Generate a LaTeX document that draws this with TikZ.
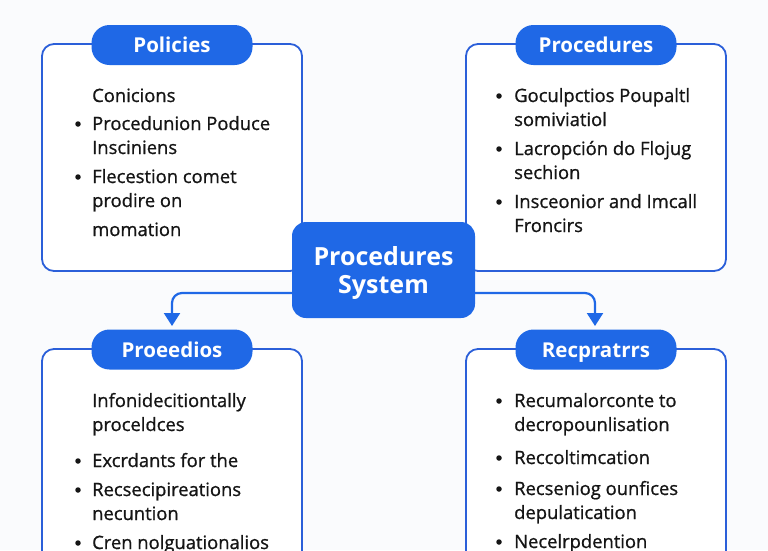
\documentclass[tikz,border=0pt]{standalone}
\usepackage{fontspec}
\setmainfont{Open Sans}
\newfontfamily\medfont{Open Sans}[RawFeature={embolden=0.9}]
\usetikzlibrary{arrows.meta}
\definecolor{bg}{HTML}{FAFBFD}
\definecolor{pillblue}{HTML}{1F68E6}
\definecolor{edgeblue}{HTML}{2B5FD9}
\definecolor{txt}{HTML}{151515}
\tikzset{
  panel/.style={draw=edgeblue, line width=1.8pt, fill=white, rounded corners=12pt},
  pill/.style={fill=pillblue, rounded corners=18pt, minimum width=161pt, minimum height=40pt, inner sep=0pt},
  pilltext/.style={text=white, font=\fontsize{20.5}{22}\selectfont\bfseries, anchor=base},
  body/.style={text=txt, font=\medfont\fontsize{18.4}{20}\selectfont, anchor=base west, inner sep=0pt},
  bul/.style={circle, fill=txt, inner sep=0pt, minimum size=5.5pt},
  hub/.style={fill=pillblue, rounded corners=14pt, minimum width=183pt, minimum height=96pt, inner sep=0pt},
  link/.style={draw=pillblue, line width=2.2pt, rounded corners=10pt, -{Triangle[length=13pt,width=16pt]}}
}
\begin{document}
\begin{tikzpicture}[x=1pt,y=-1pt]
\fill[bg] (0,0) rectangle (768,550);
\useasboundingbox (0,0) rectangle (768,550);
\clip (0,0) rectangle (768,550);

% panels
\draw[panel] (42,44) rectangle (302,271);
\draw[panel] (466,44) rectangle (726,271);
\draw[panel] (42,349) rectangle (302,580);
\draw[panel] (466,349) rectangle (726,580);

% pills
\node[pill] (p1) at (172,45) {};
\node[pilltext] at (172,52) {Policies};
\node[pill] (p2) at (596,45) {};
\node[pilltext] at (596,52) {Procedures};
\node[pill] (p3) at (172,349.5) {};
\node[pilltext] at (172,357) {Proeedios};
\node[pill] (p4) at (596,349.5) {};
\node[pilltext] at (596,357) {Recpratrrs};

% hub
\node[hub] (hub) at (383.5,270) {};
\node[text=white, font=\fontsize{25}{28}\selectfont\bfseries, anchor=base] at (383.5,265) {Procedures};
\node[text=white, font=\fontsize{25}{28}\selectfont\bfseries, anchor=base] at (383.5,293) {System};

% arrows
\coordinate (lt) at (172,326);
\coordinate (rt) at (595,326);
\draw[link] (hub.west |- 0,293) -| (lt);
\draw[link] (hub.east |- 0,293) -| (rt);

% Policies text
\node[body] at (92,102) {Conicions};
\node[bul] at (78,124) {};
\node[body] at (92,130) {Procedunion Poduce};
\node[body] at (92,154) {Insciniens};
\node[bul] at (78,177) {};
\node[body] at (92,183) {Flecestion comet};
\node[body] at (92,207) {prodire on};
\node[body] at (92,236) {momation};

% Procedures text
\node[bul] at (499,96) {};
\node[body] at (514,102) {Goculpctios Poupaltl};
\node[body] at (514,126) {somiviatiol};
\node[bul] at (499,149) {};
\node[body] at (514,155) {Lacropción do Flojug};
\node[body] at (514,179) {sechion};
\node[bul] at (499,202) {};
\node[body] at (514,208) {Insceonior and Imcall};
\node[body] at (514,232) {Froncirs};

% Proeedios text
\node[body] at (92,407) {Infonidecitiontally};
\node[body] at (92,431) {proceldces};
\node[bul] at (78,461) {};
\node[body] at (92,467) {Excrdants for the};
\node[bul] at (78,490) {};
\node[body] at (92,496) {Recsecipireations};
\node[body] at (92,520) {necuntion};
\node[bul] at (78,543) {};
\node[body] at (92,549) {Cren nolguationalios};

% Recpratrrs text
\node[bul] at (499,401) {};
\node[body] at (514,407) {Recumalorconte to};
\node[body] at (514,431) {decropounlisation};
\node[bul] at (499,458) {};
\node[body] at (514,464) {Reccoltimcation};
\node[bul] at (499,489) {};
\node[body] at (514,495) {Recseniog ounfices};
\node[body] at (514,519) {depulatication};
\node[bul] at (499,542) {};
\node[body] at (514,548) {Necelrpdention};
\end{tikzpicture}
\end{document}
